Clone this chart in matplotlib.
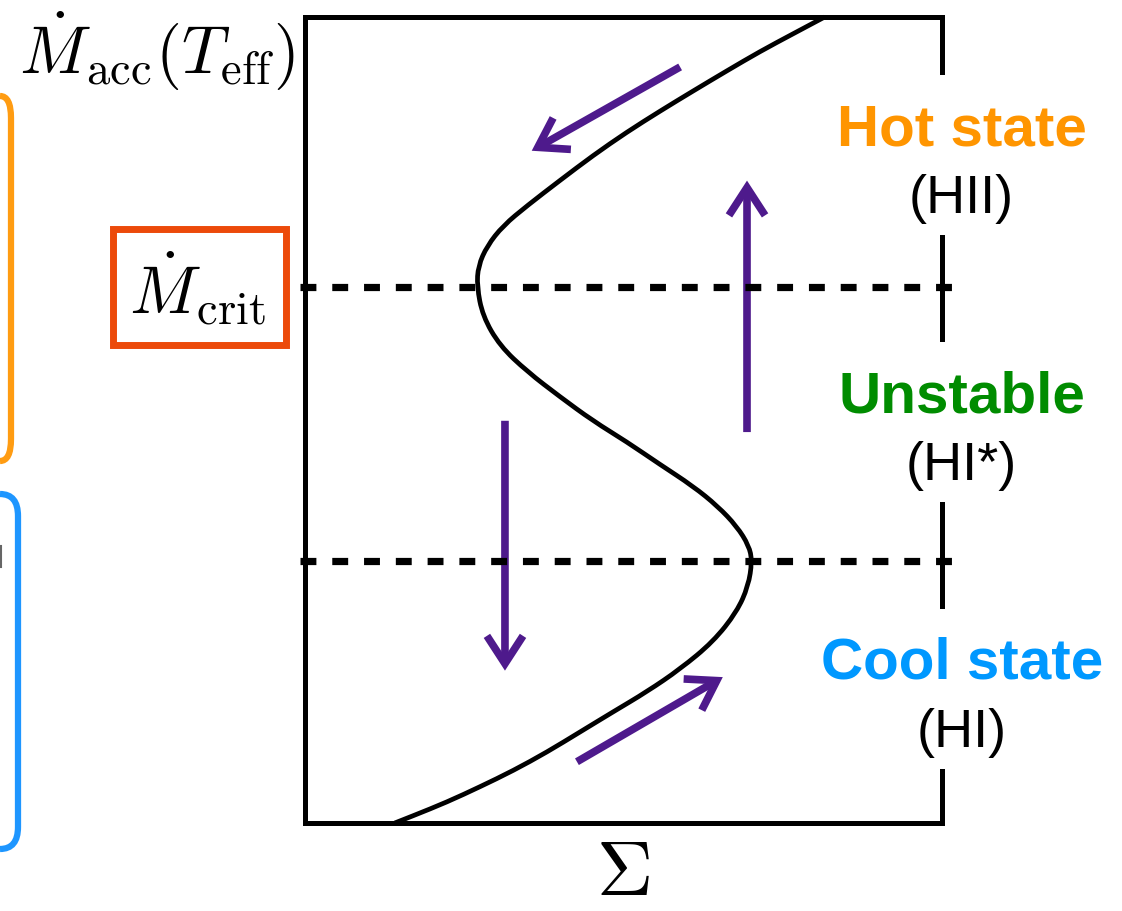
import matplotlib
matplotlib.use("Agg")
import matplotlib.pyplot as plt
from matplotlib.patches import FancyArrowPatch, Rectangle, PathPatch
from matplotlib.path import Path
from matplotlib.lines import Line2D

plt.rcParams['mathtext.fontset'] = 'cm'
plt.rcParams['font.family'] = ['Liberation Sans', 'DejaVu Sans']

# === S-curve (surface density vs accretion rate), in frame units 0..1 ===
sigma = [0.141, 0.170, 0.223, 0.275, 0.327, 0.380, 0.432, 0.484, 0.537, 0.589,
         0.641, 0.678, 0.696, 0.702, 0.697, 0.678, 0.648, 0.609, 0.557, 0.505,
         0.452, 0.400, 0.349, 0.306, 0.279, 0.270, 0.272, 0.286, 0.311, 0.349,
         0.400, 0.452, 0.505, 0.557, 0.609, 0.662, 0.714, 0.766, 0.816]
mdot = [0.000, 0.009, 0.026, 0.045, 0.065, 0.088, 0.113, 0.138, 0.163, 0.191,
        0.225, 0.262, 0.294, 0.325, 0.344, 0.368, 0.393, 0.418, 0.445, 0.473,
        0.499, 0.529, 0.560, 0.592, 0.629, 0.666, 0.691, 0.716, 0.741, 0.766,
        0.797, 0.828, 0.857, 0.883, 0.908, 0.933, 0.957, 0.979, 1.000]

# critical accretion rates (upper / lower turning points)
mdot_crit = [0.665, 0.325]

# limit-cycle arrows: (tail, tip)
cycle_arrows = [
    ((0.589, 0.938), (0.356, 0.834)),
    ((0.314, 0.499), (0.314, 0.189)),
    ((0.427, 0.076), (0.656, 0.181)),
    ((0.694, 0.485), (0.694, 0.797)),
]

state_titles = ["Hot state", "Unstable", "Cool state"]
state_names = ["(HII)", "(HI*)", "(HI)"]
state_colors = ["#ff9500", "#008c00", "#0098ff"]
title_y = [0.842, 0.511, 0.181]
name_y = [0.758, 0.427, 0.096]

purple = "#4e1a8c"

fig = plt.figure(figsize=(11.22, 9.12), dpi=100)
ax = fig.add_axes([0.2718, 0.0965, 0.5677, 0.8838])
ax.set_xlim(0, 1)
ax.set_ylim(0, 1)
ax.set_xticks([])
ax.set_yticks([])
for side in ['left', 'top', 'bottom']:
    ax.spines[side].set_linewidth(3.6)
ax.spines['right'].set_visible(False)

# right frame edge is broken where the state labels sit
for y0, y1 in [(0.932, 1.0), (0.600, 0.727), (0.269, 0.396), (0.0, 0.0645)]:
    ax.plot([1, 1], [y0, y1], color='k', lw=3.6, solid_capstyle='projecting',
            clip_on=False)

# smooth the S-curve: quadratic segments through the midpoints of the samples
pts = list(zip(sigma, mdot))
verts = [pts[0]]
codes = [Path.MOVETO]
for i in range(1, len(pts) - 1):
    mid = ((pts[i][0] + pts[i + 1][0]) / 2, (pts[i][1] + pts[i + 1][1]) / 2)
    if i == len(pts) - 2:
        mid = pts[-1]
    verts += [pts[i], mid]
    codes += [Path.CURVE3, Path.CURVE3]
ax.add_patch(PathPatch(Path(verts, codes), fill=False, edgecolor='k', lw=3.4,
                       capstyle='butt', clip_on=False))

for yc in mdot_crit:
    ax.plot([-0.008, 1.016], [yc, yc], color='k', lw=5.2,
            linestyle=(0, (2.2, 2.2)), clip_on=False)

for tail, tip in cycle_arrows:
    arr = FancyArrowPatch(tail, tip, arrowstyle='->, head_length=2.0, head_width=1.3',
                          mutation_scale=10, lw=5.5, color=purple,
                          shrinkA=0, shrinkB=0, capstyle='butt', joinstyle='miter')
    ax.add_patch(arr)

for t, n, c, ty, ny in zip(state_titles, state_names, state_colors, title_y, name_y):
    ax.text(1.031, ty, t, color=c, fontsize=42, fontweight='bold',
            ha='center', va='baseline', clip_on=False)
    ax.text(1.031, ny, n, color='k', fontsize=39,
            ha='center', va='baseline', clip_on=False)

# axis labels
fig.text(295 / 1122, 1 - 74 / 912, r'$\dot{M}_{\rm acc}(T_{\rm eff})$',
         fontsize=48, ha='right', va='baseline')
fig.text(623 / 1122, 1 - 895 / 912, r'$\Sigma$', fontsize=56,
         ha='center', va='baseline')

# boxed critical-rate label
fig.add_artist(Rectangle((113 / 1122, 1 - 346 / 912), 173 / 1122, 116 / 912,
                         transform=fig.transFigure, fill=False,
                         edgecolor='#ec4a0a', lw=5))
fig.text(198 / 1122, 1 - 313 / 912, r'$\dot{M}_{\rm crit}$',
         fontsize=48, ha='center', va='baseline')


# rounded brackets on the left edge (y measured from the top, in pixels)
def bracket(top, bottom, xv, color):
    verts = [(0, top), (xv, top), (xv, top + 22),
             (xv, bottom - 22), (xv, bottom), (0, bottom)]
    codes = [Path.MOVETO, Path.CURVE3, Path.CURVE3,
             Path.LINETO, Path.CURVE3, Path.CURVE3]
    verts = [(x / 1122, 1 - y / 912) for x, y in verts]
    fig.add_artist(PathPatch(Path(verts, codes), transform=fig.transFigure,
                             fill=False, edgecolor=color, lw=4.5))


bracket(97, 462, 11, '#ff9c12')
bracket(495, 850, 18, '#1e96ff')
fig.add_artist(Line2D([1 / 1122, 1 / 1122], [1 - 547 / 912, 1 - 568 / 912],
                      transform=fig.transFigure, color='#666666', lw=1.5))

fig.savefig("out.png", dpi=100, facecolor='white')
